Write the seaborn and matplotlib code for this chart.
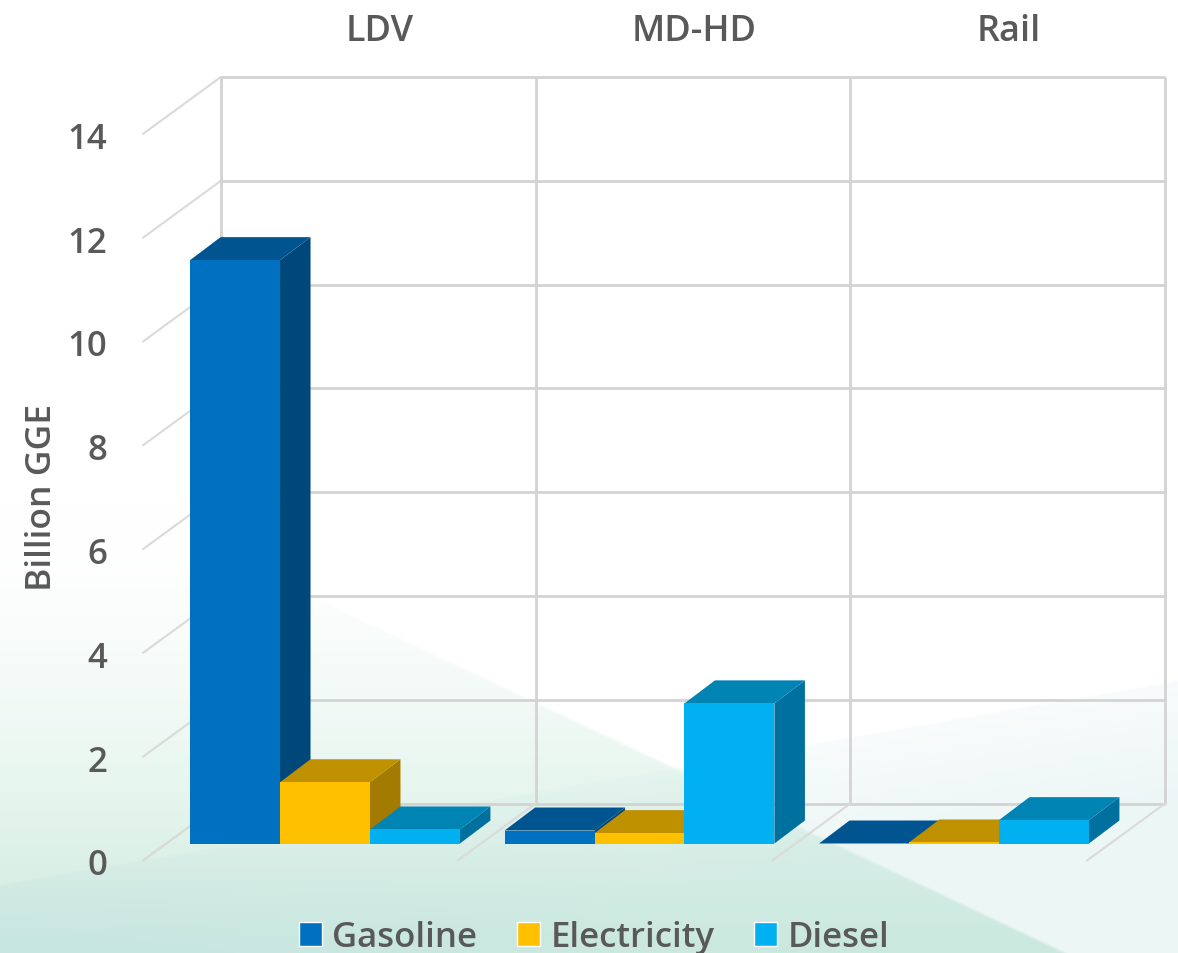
import numpy as np
import pandas as pd
import matplotlib
matplotlib.use("Agg")
import matplotlib.pyplot as plt
from matplotlib.patches import Polygon
import seaborn as sns

# === Values ===
sectors = ["LDV", "MD-HD", "Rail"]
fuels = ["Gasoline", "Electricity", "Diesel"]
gasoline = [11.24, 0.25, 0.0]
electricity = [1.18, 0.20, 0.02]
diesel = [0.27, 2.70, 0.45]
y_ticks = [0, 2, 4, 6, 8, 10, 12, 14]

front_colors = ["#0070C0", "#FFC000", "#00B0F0"]
top_colors = ["#005591", "#BF9000", "#0084B4"]
side_colors = ["#00477A", "#A37B00", "#00709F"]
text_color = "#595959"
wall_color = "#d3d3d3"

df = pd.DataFrame({
    "Sector": sectors * 3,
    "Fuel": np.repeat(fuels, 3),
    "GGE": gasoline + electricity + diesel,
})

# scale of the picture: one category = 314.5 px, one unit = 51.9 px
W, H = 1178, 954
base = 844.5
px_x = 314.5
px_y = 51.9
x_lim = (-325 / px_x, (W - 325) / px_x)
y_lim = (-(H - base) / px_y, base / px_y)

sns.set_theme(style="white")
plt.rcParams["font.family"] = ["Open Sans", "DejaVu Sans"]
fig = plt.figure(figsize=(W / 100, H / 100), dpi=100)
ax = fig.add_axes([0, 0, 1, 1])

# === Background wash (two soft wedges at the bottom) ===
yy, xx = np.mgrid[0:H, 0:W]
bg = np.ones((H, W, 3))
edge_a = 595 + (xx - 310) * (954 - 595) / (1070 - 310)
mask_a = np.where(xx < 310, np.clip((yy - 490) / 110, 0, 1), np.clip((yy - edge_a) / 4, 0, 1))
alpha_a = mask_a * np.clip((yy - 500) / 440, 0, 1) ** 1.7 * 0.95
tint_a = np.array([203, 234, 220]) / 255
bg = bg * (1 - alpha_a[..., None]) + tint_a * alpha_a[..., None]
edge_b = 884 - xx * (884 - 680) / 1178
mask_b = np.clip((yy - edge_b) / 3, 0, 1)
alpha_b = mask_b * (0.12 + 0.2 * np.clip((yy - edge_b) / 120, 0, 1)
                    + 0.5 * np.clip((yy - 820) / 134, 0, 1) * np.clip((600 - xx) / 600, 0, 1))
tint_b = np.array([198, 228, 226]) / 255
bg = bg * (1 - alpha_b[..., None]) + tint_b * alpha_b[..., None]
ax.imshow(bg, extent=(*x_lim, y_lim[0], y_lim[1]), aspect="auto", origin="upper", zorder=0)

# === Front faces of the bars ===
sns.barplot(data=df, x="Sector", y="GGE", hue="Fuel", hue_order=fuels,
            palette=front_colors, saturation=1, width=0.858, gap=0, ax=ax)

# === Back wall, floor dividers and left wall ===
wall_dy = 40 / px_y
front_dy = -17 / px_y
wall_left = (221 - 325) / px_x
wall_right = (1165 - 325) / px_x
side_dx = 78 / px_x
for v in y_ticks:
    ax.plot([wall_left, wall_right], [v + wall_dy] * 2, color=wall_color, lw=2.0, zorder=1, solid_capstyle="butt")
    ax.plot([wall_left - side_dx, wall_left], [v + front_dy, v + wall_dy], color="#dadada", lw=1.5, zorder=1)
for i in range(len(sectors) + 1):
    x = wall_left + i * (wall_right - wall_left) / len(sectors)
    ax.plot([x, x], [wall_dy, y_ticks[-1] + wall_dy], color=wall_color, lw=2.0, zorder=1, solid_capstyle="butt")
    ax.plot([x - side_dx, x], [front_dy, wall_dy], color="#dadada", lw=1.5, zorder=1)

# === Fake 3D: side and top faces built from the seaborn bars ===
dx = 30.5 / px_x
dy = 23 / px_y
for fuel_i, container in enumerate(ax.containers):
    for bar in container:
        x0 = bar.get_x()
        x1 = x0 + bar.get_width()
        h = bar.get_height()
        z = 3 + 3 * round((x0 - x_lim[0]) * 10)
        bar.set_zorder(z + 2)
        bar.set_linewidth(0)
        ax.add_patch(Polygon([(x1, 0), (x1 + dx, dy), (x1 + dx, h + dy), (x1, h)],
                             closed=True, fc=side_colors[fuel_i], ec="none", zorder=z))
        ax.add_patch(Polygon([(x0, h), (x0 + dx, h + dy), (x1 + dx, h + dy), (x1, h)],
                             closed=True, fc=top_colors[fuel_i], ec="none", zorder=z + 1))

ax.set_xlim(*x_lim)
ax.set_ylim(*y_lim)
ax.axis("off")

# === Text ===
for v in y_ticks:
    ax.text((107 - 325) / px_x, v + front_dy - 5 / px_y, str(v), ha="right", va="center",
            color=text_color, fontsize=25, fontweight="semibold")
for i, name in enumerate(sectors):
    ax.text(i + 55 / px_x, (base - 32) / px_y, name, ha="center", va="center",
            color=text_color, fontsize=26, fontweight="semibold")
ax.text((42 - 325) / px_x, (base - 497.5) / px_y, "Billion GGE", rotation=90, ha="center", va="center",
        color=text_color, fontsize=25.5, fontweight="semibold")

handles, labels = ax.get_legend_handles_labels()
leg = ax.legend(handles, labels, ncol=3, frameon=False, loc="center", bbox_to_anchor=(594 / W, 1 - 938 / H),
                handlelength=0.66, handleheight=0.66, handletextpad=0.3, columnspacing=1.15,
                labelcolor=text_color, borderpad=0, prop={"size": 25, "weight": "semibold"})

fig.savefig("out.png", dpi=100)
